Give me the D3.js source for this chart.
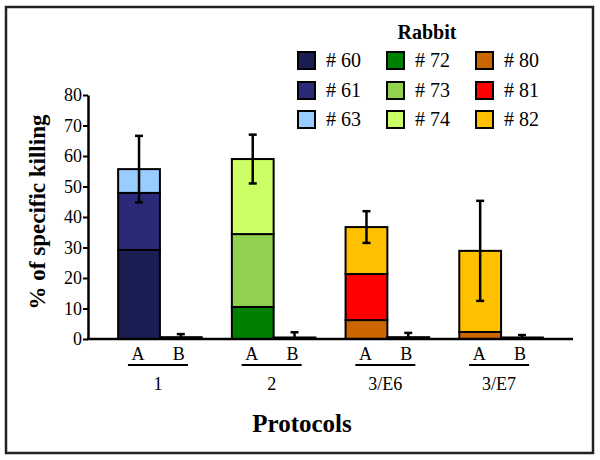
<!DOCTYPE html>
<html><head><meta charset="utf-8">
<script src="https://cdn.jsdelivr.net/npm/d3@7"></script>
<style>body{margin:0;background:#fff}svg{display:block}svg text{font-family:"Liberation Serif","Times New Roman",Tinos,"DejaVu Serif",serif;fill:#000}</style>
</head><body>
<svg id="c" width="600" height="460"></svg>
<script>
const protocols = ["1", "2", "3/E6", "3/E7"];
const subgroups = ["A", "B"];
const rabbits = ["# 60", "# 61", "# 63", "# 72", "# 73", "# 74", "# 80", "# 81", "# 82"];
const rabbitColors = ["#1a1d52", "#2b2a78", "#99ccff", "#008000", "#92d050", "#ccff66", "#cc6600", "#ff0000", "#ffc000"];
// stacked segments of the A bars, per protocol: [rabbit, value]
const stackA = [
  [["# 60", 29.2], ["# 61", 18.7], ["# 63", 7.8]],
  [["# 72", 10.5], ["# 73", 23.9], ["# 74", 24.6]],
  [["# 80", 6.2], ["# 81", 15.1], ["# 82", 15.4]],
  [["# 80", 2.3], ["# 82", 26.6]]
];
const errA = [10.9, 8.0, 5.2, 16.4];
const valB = [0.6, 0.5, 0.6, 0.5];
const errB = [1.0, 1.7, 1.4, 0.8];
const yTicks = [0, 10, 20, 30, 40, 50, 60, 70, 80];
const legendOrder = ["# 60", "# 72", "# 80", "# 61", "# 73", "# 81", "# 63", "# 74", "# 82"];

const FONT = '"Liberation Serif","Times New Roman",Tinos,"DejaVu Serif",serif';
const svg = d3.select("#c");
const color = d3.scaleOrdinal().domain(rabbits).range(rabbitColors);
const x = d3.scaleBand().domain(protocols).range([88, 573]).padding(0.265);
const xs = d3.scaleBand().domain(subgroups).range([0, x.bandwidth()]);
const y = d3.scaleLinear().domain([0, 80]).range([339, 95]);

// frame
svg.append("rect").attr("x", 6).attr("y", 7).attr("width", 587).attr("height", 446)
  .attr("fill", "none").attr("stroke", "#222").attr("stroke-width", 2.5);

protocols.forEach((p, i) => {
  // stacked A bar
  let acc = 0;
  stackA[i].forEach(([r, v]) => {
    svg.append("rect")
      .attr("x", x(p) + xs("A")).attr("width", xs.bandwidth())
      .attr("y", y(acc + v)).attr("height", y(acc) - y(acc + v))
      .attr("fill", color(r)).attr("stroke", "#000").attr("stroke-width", 2);
    acc += v;
  });
  const cx = x(p) + xs("A") + xs.bandwidth() / 2;
  svg.append("line").attr("x1", cx).attr("x2", cx).attr("y1", y(acc + errA[i])).attr("y2", y(acc - errA[i]))
    .attr("stroke", "#000").attr("stroke-width", 2.5);
  [acc + errA[i], acc - errA[i]].forEach(v => svg.append("line")
    .attr("x1", cx - 4).attr("x2", cx + 4).attr("y1", y(v)).attr("y2", y(v))
    .attr("stroke", "#000").attr("stroke-width", 2.5));
  // B bar
  svg.append("rect")
    .attr("x", x(p) + xs("B")).attr("width", xs.bandwidth())
    .attr("y", y(valB[i])).attr("height", y(0) - y(valB[i]))
    .attr("fill", "#000").attr("stroke", "#000").attr("stroke-width", 2);
  const bx = x(p) + xs("B") + xs.bandwidth() / 2;
  svg.append("line").attr("x1", bx).attr("x2", bx).attr("y1", y(valB[i] + errB[i])).attr("y2", y(valB[i]))
    .attr("stroke", "#000").attr("stroke-width", 2.5);
  svg.append("line").attr("x1", bx - 4).attr("x2", bx + 4).attr("y1", y(valB[i] + errB[i])).attr("y2", y(valB[i] + errB[i]))
    .attr("stroke", "#000").attr("stroke-width", 2.5);

  // labels
  const gx = x(p) + x.bandwidth() / 2 - 2;
  ["A", "B"].forEach(s => svg.append("text")
    .attr("x", x(p) + xs(s) + xs.bandwidth() / 2 + (s === "A" ? -1 : -2)).attr("y", 360)
    .attr("text-anchor", "middle").attr("font-family", FONT).attr("font-size", 18).text(s));
  svg.append("line").attr("x1", gx - 30).attr("x2", gx + 30).attr("y1", 365).attr("y2", 365)
    .attr("stroke", "#000").attr("stroke-width", 2);
  svg.append("text").attr("x", gx).attr("y", 390).attr("text-anchor", "middle")
    .attr("font-family", FONT).attr("font-size", 18).text(p);
});

// axes
const yAxis = svg.append("g").attr("transform", "translate(88,0)")
  .call(d3.axisLeft(y).tickValues(yTicks).tickSize(5).tickSizeOuter(0));
yAxis.attr("font-family", FONT);
yAxis.select(".domain").attr("stroke-width", 2.5);
yAxis.selectAll(".tick line").attr("stroke-width", 2);
yAxis.selectAll(".tick text").attr("font-size", 18).attr("font-family", FONT).attr("x", -6);
svg.append("line").attr("x1", 87).attr("x2", 573).attr("y1", y(0)).attr("y2", y(0))
  .attr("stroke", "#000").attr("stroke-width", 2.5);

// axis titles
svg.append("text").attr("transform", "translate(45,212) rotate(-90)")
  .attr("text-anchor", "middle").attr("font-family", FONT).attr("font-size", 23).attr("font-weight", "bold").text("% of specific killing");
svg.append("text").attr("x", 302).attr("y", 432).attr("text-anchor", "middle")
  .attr("font-family", FONT).attr("font-size", 25).attr("font-weight", "bold").text("Protocols");

// legend
svg.append("text").attr("x", 427).attr("y", 39).attr("text-anchor", "middle")
  .attr("font-family", FONT).attr("font-size", 20).attr("font-weight", "bold").text("Rabbit");
const colX = [298, 387, 476];
const rowY = [60, 90, 119];
legendOrder.forEach((r, k) => {
  const cx = colX[k % 3], cy = rowY[Math.floor(k / 3)];
  svg.append("rect").attr("x", cx).attr("y", cy - 8).attr("width", 17).attr("height", 17)
    .attr("fill", color(r)).attr("stroke", "#000").attr("stroke-width", 2);
  svg.append("text").attr("x", cx + 28).attr("y", cy + 7).attr("font-family", FONT).attr("font-size", 20).text(r);
});
</script>
</body></html>
